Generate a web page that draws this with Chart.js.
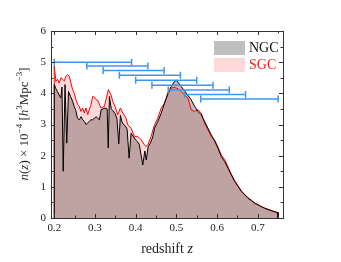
<!DOCTYPE html>
<html>
<head>
<meta charset="utf-8">
<script src="https://cdn.jsdelivr.net/npm/chart.js@4/dist/chart.umd.min.js"></script>
<style>
  body { margin: 0; background: #fff; }
  canvas { display: block; }
</style>
</head>
<body>
<canvas id="nz" width="341" height="262"></canvas>
<script>
// NGC number density (black line, grey fill)
const zNGC = [0.200, 0.200, 0.204, 0.208, 0.212, 0.216, 0.219, 0.222, 0.2265, 0.2307, 0.235, 0.240,
  0.245, 0.249, 0.253, 0.257, 0.261, 0.266, 0.270, 0.274, 0.278, 0.282, 0.286, 0.290, 0.294,
  0.2985, 0.303, 0.307, 0.311, 0.315, 0.320, 0.3245, 0.330, 0.3326, 0.3355, 0.340, 0.344,
  0.3494, 0.354, 0.3585, 0.3626, 0.366, 0.370, 0.375, 0.379, 0.3839, 0.3888, 0.395, 0.400,
  0.4045, 0.409, 0.4175, 0.4225, 0.426, 0.431, 0.436, 0.442, 0.4463, 0.4545, 0.4627, 0.4709,
  0.4791, 0.4873, 0.4955, 0.500, 0.5118, 0.524, 0.5365, 0.545, 0.553, 0.5612, 0.5694, 0.5776,
  0.5858, 0.594, 0.6022, 0.6105, 0.6187, 0.6269, 0.6352, 0.6434, 0.6516, 0.6598, 0.668, 0.6762,
  0.6844, 0.6926, 0.7008, 0.709, 0.7172, 0.7254, 0.7336, 0.7418, 0.750, 0.750];
const nNGC = [0, 4.28, 4.15, 4.05, 3.95, 3.85, 4.2, 1.5, 4.28, 2.4, 4.06, 3.9,
  3.75, 3.58, 3.45, 3.2, 3.15, 3.25, 3.15, 3.1, 3.0, 3.05, 3.1, 3.15, 3.15,
  3.2, 3.25, 3.2, 3.15, 3.47, 3.5, 3.53, 3.5, 2.25, 3.9, 3.5, 3.45,
  3.35, 3.2, 2.38, 3.3, 3.1, 3.0, 2.95, 2.85, 1.92, 2.72, 2.6, 2.5,
  2.45, 2.35, 1.7, 2.15, 1.86, 2.3, 2.4, 2.6, 2.88, 3.1, 3.36, 3.68,
  4.01, 4.22, 4.38, 4.42, 4.22, 4.01, 3.79, 3.58, 3.42, 3.31, 3.10, 2.88,
  2.67, 2.47, 2.24, 1.97, 1.81, 1.6, 1.38, 1.17, 1.01, 0.85, 0.74, 0.63,
  0.56, 0.47, 0.42, 0.36, 0.31, 0.27, 0.23, 0.2, 0.17, 0];

// SGC number density (red line, pink fill)
const zSGC = [0.200, 0.200, 0.2041, 0.2082, 0.2123, 0.2164, 0.2205, 0.2246, 0.2287, 0.2328, 0.2369,
  0.2410, 0.2451, 0.2492, 0.2533, 0.2574, 0.2615, 0.2656, 0.2697, 0.2739, 0.2780, 0.2821,
  0.2862, 0.2903, 0.2944, 0.2985, 0.3026, 0.3067, 0.3149, 0.3232, 0.3330, 0.3396, 0.3437,
  0.3494, 0.3560, 0.3626, 0.3683, 0.3765, 0.3806, 0.3888, 0.3970, 0.4052, 0.4134, 0.4216,
  0.4257, 0.4298, 0.4380, 0.4463, 0.4545, 0.4627, 0.4709, 0.4791, 0.4874, 0.4956, 0.5039,
  0.512, 0.5201, 0.5283, 0.5365, 0.5447, 0.5530, 0.5612, 0.5694, 0.5776, 0.5858, 0.594,
  0.6022, 0.6105, 0.6187, 0.6269, 0.6352, 0.6434, 0.6516, 0.6598, 0.668, 0.6762, 0.6844,
  0.6926, 0.7008, 0.709, 0.7172, 0.7254, 0.7336, 0.7418, 0.750, 0.750];
const nSGC = [0, 4.88, 4.38, 4.45, 4.33, 4.5, 4.45, 4.4, 4.55, 4.6, 4.55,
  4.33, 4.12, 4.0, 3.79, 3.65, 3.58, 3.42, 3.53, 3.37, 3.53, 3.32,
  3.48, 3.63, 3.9, 3.88, 3.8, 3.78, 3.53, 3.58, 4.12, 3.95, 3.74,
  3.58, 3.31, 3.53, 3.37, 3.2, 2.99, 2.88, 2.62, 2.62, 2.51, 2.35,
  2.29, 2.35, 2.62, 2.99, 3.2, 3.53, 3.69, 3.95, 4.17, 4.19, 4.15,
  4.06, 3.95, 3.85, 3.47, 3.42, 3.47, 3.37, 3.04, 2.83, 2.61, 2.5,
  2.28, 2.02, 1.88, 1.64, 1.4, 1.2, 1.03, 0.87, 0.76, 0.65, 0.57,
  0.48, 0.43, 0.37, 0.32, 0.28, 0.24, 0.2, 0.17, 0];

// Redshift bins (blue horizontal bars)
const binLo = [0.20, 0.28, 0.32, 0.36, 0.40, 0.44, 0.48, 0.52, 0.56];
const binHi = [0.39, 0.43, 0.47, 0.51, 0.55, 0.59, 0.63, 0.67, 0.75];
const binY = [5.0, 4.88, 4.73, 4.58, 4.42, 4.26, 4.11, 3.96, 3.82];

// Tick labels
const xTicks = [0.2, 0.3, 0.4, 0.5, 0.6, 0.7];
const yTicks = [0, 1, 2, 3, 4, 5, 6];

const serif = '"Liberation Serif", "DejaVu Serif", serif';

function toPoints(xs, ys) {
  return xs.map((x, i) => ({ x: x, y: ys[i] }));
}

const binSets = binLo.map((lo, i) => ({
  label: 'bin' + i,
  data: [{ x: lo, y: binY[i] }, { x: binHi[i], y: binY[i] }],
  borderColor: '#3d97f2',
  borderWidth: 1.5,
  pointStyle: 'line',
  pointRotation: 90,
  pointRadius: 3.5,
  pointBorderColor: '#3d97f2',
  pointBorderWidth: 1.5,
  fill: false,
  order: 0,
}));

// Inward ticks, frame, axis titles and legend
const decorations = {
  id: 'decorations',
  afterDraw(chart) {
    const { ctx, chartArea: a, scales: { x, y } } = chart;
    ctx.save();
    ctx.strokeStyle = '#333';
    ctx.lineWidth = 1;
    ctx.strokeRect(Math.round(a.left) + 0.5, Math.round(a.top) + 0.5,
      Math.round(a.right - a.left), Math.round(a.bottom - a.top));

    ctx.beginPath();
    for (let v = 0.2; v <= 0.751; v += 0.05) {
      const px = Math.round(x.getPixelForValue(v)) + 0.5;
      const len = Math.abs(v * 10 - Math.round(v * 10)) < 1e-6 ? 4 : 2.5;
      ctx.moveTo(px, a.bottom); ctx.lineTo(px, a.bottom - len);
      ctx.moveTo(px, a.top); ctx.lineTo(px, a.top + len);
    }
    for (let v = 0.5; v < 6; v += 0.5) {
      const py = Math.round(y.getPixelForValue(v)) + 0.5;
      const len = Number.isInteger(v) ? 4 : 2.5;
      ctx.moveTo(a.left, py); ctx.lineTo(a.left + len, py);
      ctx.moveTo(a.right, py); ctx.lineTo(a.right - len, py);
    }
    ctx.stroke();

    // x title
    ctx.fillStyle = '#222';
    ctx.textBaseline = 'middle';
    ctx.font = '14px ' + serif;
    const w1 = ctx.measureText('redshift ').width;
    ctx.font = 'italic 14px ' + serif;
    const w2 = ctx.measureText('z').width;
    let sx = 167 - (w1 + w2) / 2;
    ctx.font = '14px ' + serif;
    ctx.fillText('redshift ', sx, 249);
    ctx.font = 'italic 14px ' + serif;
    ctx.fillText('z', sx + w1, 249);

    // y title (rotated, rich text)
    const parts = [
      ['n', 'italic 13px', 0], ['(', '13px', 0], ['z', 'italic 13px', 0], [') × 10', '13px', 0],
      ['−4', '9px', -5], [' [', '13px', 0], ['h', 'italic 13px', 0], ['3', '9px', -5],
      ['Mpc', '13px', 0], ['−3', '9px', -5], [']', '13px', 0],
    ];
    let total = 0;
    parts.forEach(p => { ctx.font = p[1] + ' ' + serif; total += ctx.measureText(p[0]).width; });
    ctx.translate(25, 124);
    ctx.rotate(-Math.PI / 2);
    let cx = -total / 2;
    parts.forEach(p => {
      ctx.font = p[1] + ' ' + serif;
      ctx.fillText(p[0], cx, p[2]);
      cx += ctx.measureText(p[0]).width;
    });
    ctx.setTransform(1, 0, 0, 1, 0, 0);

    // legend
    ctx.fillStyle = 'rgba(0,0,0,0.25)';
    ctx.fillRect(214, 41, 31, 14);
    ctx.fillStyle = 'rgba(255,0,0,0.15)';
    ctx.fillRect(214, 58, 31, 14);
    ctx.font = '14px ' + serif;
    ctx.fillStyle = '#111';
    ctx.fillText('NGC', 249, 48.5);
    ctx.fillStyle = '#ff1a1a';
    ctx.fillText('SGC', 249, 65.5);
    ctx.restore();
  },
};

document.addEventListener('DOMContentLoaded', () => {
  const ctx = document.getElementById('nz').getContext('2d');

  new Chart(ctx, {
    type: 'line',
    data: {
      datasets: [
        ...binSets,
        {
          label: 'NGC',
          data: toPoints(zNGC, nNGC),
          borderColor: '#000',
          borderWidth: 1,
          backgroundColor: 'rgba(0,0,0,0.25)',
          fill: 'origin',
          pointRadius: 0,
          tension: 0,
          order: 1,
        },
        {
          label: 'SGC',
          data: toPoints(zSGC, nSGC),
          borderColor: '#ff0000',
          borderWidth: 1,
          backgroundColor: 'rgba(255,0,0,0.15)',
          fill: 'origin',
          pointRadius: 0,
          tension: 0,
          order: 2,
        },
      ],
    },
    options: {
      responsive: false,
      animation: false,
      layout: { padding: { top: 31, right: 58, left: 0, bottom: 0 } },
      plugins: {
        legend: { display: false },
        tooltip: { enabled: false },
        filler: { drawTime: 'beforeDatasetsDraw' },
      },
      scales: {
        x: {
          type: 'linear',
          min: 0.192,
          max: 0.762,
          grid: { display: false, drawTicks: false },
          border: { display: false },
          afterBuildTicks: (s) => { s.ticks = xTicks.map(v => ({ value: v })); },
          afterFit: (s) => { s.height = 44; },
          ticks: {
            padding: 4,
            color: '#222',
            font: { family: serif, size: 11 },
            callback: (v) => v.toFixed(1),
          },
        },
        y: {
          min: 0,
          max: 6,
          grid: { display: false, drawTicks: false },
          border: { display: false },
          afterBuildTicks: (s) => { s.ticks = yTicks.map(v => ({ value: v })); },
          afterFit: (s) => { s.width = 51; },
          ticks: {
            padding: 5,
            color: '#222',
            font: { family: serif, size: 11 },
          },
        },
      },
    },
    plugins: [decorations],
  });
});
</script>
</body>
</html>
